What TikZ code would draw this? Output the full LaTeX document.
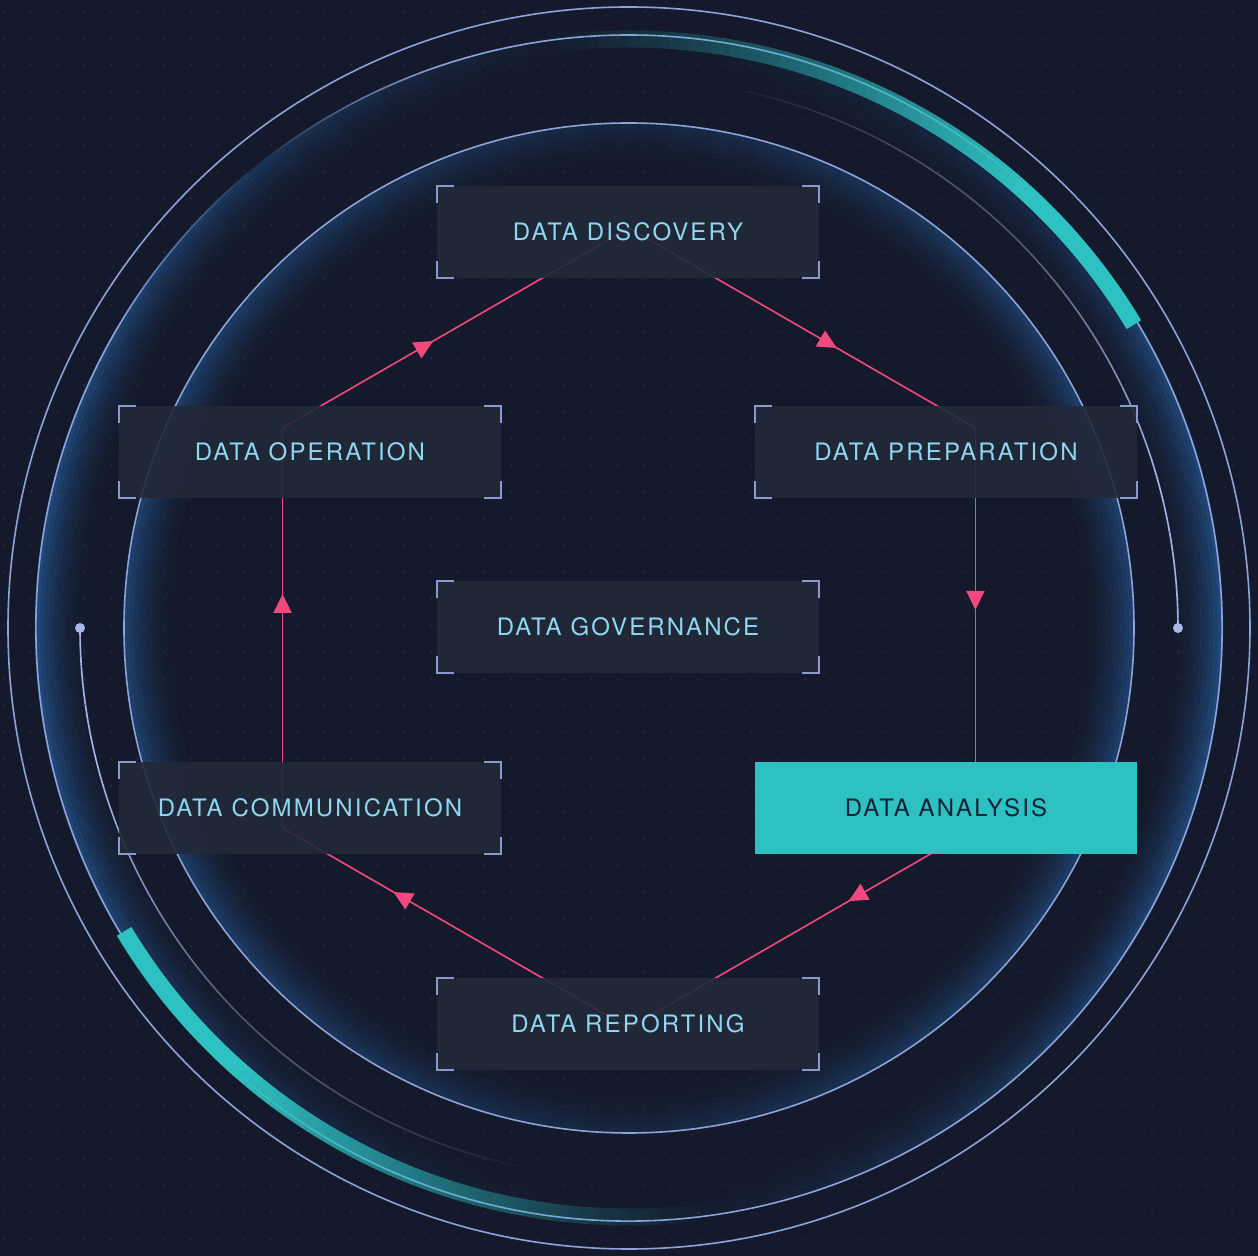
\documentclass[tikz,border=0pt]{standalone}
\usepackage{fontspec}
\usetikzlibrary{arrows.meta,decorations.markings}
\newfontfamily\boxfont[LetterSpace=9]{TeX Gyre Heros}

\definecolor{bgc}{HTML}{141A2B}
\definecolor{ringc}{HTML}{8EA3DA}
\definecolor{glowc}{HTML}{2864AA}
\definecolor{tealc}{HTML}{2EC1C1}
\definecolor{pinkc}{HTML}{F4487F}
\definecolor{boxc}{HTML}{222939}
\definecolor{brackc}{HTML}{8A9BCB}
\definecolor{labelc}{HTML}{8FD6F0}
\definecolor{darkc}{HTML}{15203A}
\definecolor{arcgrey}{HTML}{4C5571}
\definecolor{arclight}{HTML}{A8B6EC}
\definecolor{gridc}{HTML}{252D43}

% corner brackets of a stage box
\newcommand\brackets[1]{%
  \draw[bracket] ([yshift=-8.5pt]#1.north west) -- (#1.north west) -- ([xshift=8.5pt]#1.north west);
  \draw[bracket] ([xshift=-8.5pt]#1.north east) -- (#1.north east) -- ([yshift=-8.5pt]#1.north east);
  \draw[bracket] ([yshift=8.5pt]#1.south west) -- (#1.south west) -- ([xshift=8.5pt]#1.south west);
  \draw[bracket] ([xshift=-8.5pt]#1.south east) -- (#1.south east) -- ([yshift=8.5pt]#1.south east);}

\begin{document}
\begin{tikzpicture}[x=0.5pt,y=0.5pt,
    ring/.style={draw=ringc,line width=0.8pt},
    glowarc/.style={draw=glowc,line width=2.35pt},
    tealband/.style={draw=tealc,line width=8.5pt},
    thinarc/.style={line width=0.8pt},
    flow/.style={draw=pinkc,line width=0.8pt},
    tipat/.style={postaction={decorate},decoration={markings,
        mark=at position #1 with {\arrow[pinkc]{Triangle[length=9.5pt,width=9pt]}}}},
    stagebox/.style={fill=boxc,fill opacity=0.9,text opacity=1,minimum width=191pt,
        minimum height=46pt,inner sep=0pt,text=labelc,font=\boxfont\fontsize{12}{14}\selectfont},
    activebox/.style={stagebox,fill=tealc,fill opacity=1,text=darkc},
    bracket/.style={draw=brackc,line width=1pt}]

    \fill[bgc] (-629,-628) rectangle (629,628);
    \useasboundingbox (-629,-628) rectangle (629,628);

    % glows, strongest at the sides
    \foreach \k in {0,...,11} {
        \pgfmathsetmacro\rr{591.75-4.5*\k}
        \pgfmathsetmacro\base{0.62*(1-\k/12)^2}
        \pgfmathsetmacro\ri{502.75-4.5*\k}
        \pgfmathsetmacro\bi{0.5*(1-\k/12)^2}
        \foreach \t in {0,5,...,355} {
            \pgfmathsetmacro\op{\base*abs(cos(\t+2.5))^1.4}
            \pgfmathsetmacro\oi{\bi*(0.3+0.7*abs(cos(\t+2.5)))}
            \draw[glowarc,draw opacity=\op] (\t:\rr) arc[start angle=\t,end angle=\t+5,radius=\rr];
            \draw[glowarc,draw opacity=\oi] (\t:\ri) arc[start angle=\t,end angle=\t+5,radius=\ri];
        }
    }

    % dot grid
    \foreach \i in {-24,...,23}
        \foreach \j in {-24,...,23}
            \fill[gridc] (\i*26.7+16,\j*26.7+2.5) circle[radius=1.1];

    % rings
    \draw[ring] (0,0) circle[radius=621];
    \draw[ring] (0,0) circle[radius=505];
    \draw[ring] (-210:593) arc[start angle=-210,end angle=108,radius=593];
    \foreach \a in {108,...,127} {
        \pgfmathsetmacro\op{(128-\a)/20}
        \draw[ring,draw opacity=\op] (\a:593) arc[start angle=\a,end angle=\a+1,radius=593];
    }
    \foreach \a in {130,...,149} {
        \pgfmathsetmacro\op{(\a-129)/20}
        \draw[ring,draw opacity=\op] (\a:593) arc[start angle=\a,end angle=\a+1,radius=593];
    }

    % thin arcs ending in dots
    \foreach \a in {0,...,79} {
        \pgfmathsetmacro\mx{max(0,min(100,(45-\a)*3.4))}
        \pgfmathsetmacro\op{min(1,(80-\a)/25)}
        \draw[thinarc,draw=arclight!\mx!arcgrey,draw opacity=\op]
            (\a:549) arc[start angle=\a,end angle=\a+1,radius=549];
        \draw[thinarc,draw=arclight!\mx!arcgrey,draw opacity=\op]
            (\a+180:549) arc[start angle=\a+180,end angle=\a+181,radius=549];
    }
    \fill[arclight] (0:549) circle[radius=5];
    \fill[arclight] (180:549) circle[radius=5];

    % teal bands
    \draw[tealband] (31:589) arc[start angle=31,end angle=48,radius=589];
    \draw[tealband] (211:589) arc[start angle=211,end angle=228,radius=589];
    \foreach \a in {48,...,97} {
        \pgfmathsetmacro\op{((98-\a)/50)^1.2}
        \draw[tealband,draw opacity=\op] (\a:589) arc[start angle=\a,end angle=\a+1,radius=589];
        \draw[tealband,draw opacity=\op] (\a+180:589) arc[start angle=\a+180,end angle=\a+181,radius=589];
    }

    % cycle
    \coordinate (v-disc) at (90:400);
    \coordinate (v-prep) at (30:400);
    \coordinate (v-anal) at (-30:400);
    \coordinate (v-rep) at (-90:400);
    \coordinate (v-comm) at (210:400);
    \coordinate (v-oper) at (150:400);

    \draw[flow,tipat=0.435] (v-oper) -- (v-disc);
    \draw[flow,tipat=0.6] (v-disc) -- (v-prep);
    \draw[flow,tipat=0.455] (v-prep) -- (v-anal);
    \draw[flow,tipat=0.366] (v-anal) -- (v-rep);
    \draw[flow,tipat=0.68] (v-rep) -- (v-comm);
    \draw[flow,tipat=0.585] (v-comm) -- (v-oper);

    % stages
    \node[stagebox] (disc) at (-1,396) {DATA DISCOVERY};
    \node[stagebox] (oper) at (-319,176) {DATA OPERATION};
    \node[stagebox] (prep) at (317,176) {DATA PREPARATION};
    \node[stagebox] (gov) at (-1,1) {DATA GOVERNANCE};
    \node[stagebox] (comm) at (-319,-180) {DATA COMMUNICATION};
    \node[activebox] (anal) at (317,-180) {DATA ANALYSIS};
    \node[stagebox] (rep) at (-1,-396) {DATA REPORTING};

    \brackets{disc}
    \brackets{oper}
    \brackets{prep}
    \brackets{gov}
    \brackets{comm}
    \brackets{rep}
\end{tikzpicture}
\end{document}
